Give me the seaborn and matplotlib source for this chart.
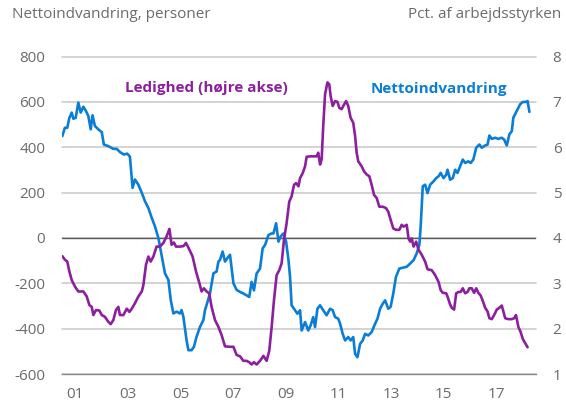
import matplotlib
matplotlib.use('Agg')
import numpy as np
import pandas as pd
import matplotlib.pyplot as plt
import seaborn as sns

# %% Data (decimal years)

#Nettoindvandring, personer (left axis)
netto_aar = [2001.01, 2001.11, 2001.20, 2001.28, 2001.37, 2001.43, 2001.52, 2001.62, 2001.71, 2001.81,
             2001.91, 2002.00, 2002.09, 2002.16, 2002.25, 2002.38, 2002.51, 2002.59, 2002.76, 2002.95,
             2003.08, 2003.20, 2003.35, 2003.48, 2003.58, 2003.68, 2003.77, 2003.90, 2004.03, 2004.15,
             2004.28, 2004.41, 2004.53, 2004.66, 2004.78, 2004.91, 2005.04, 2005.13, 2005.23, 2005.35,
             2005.48, 2005.54, 2005.61, 2005.73, 2005.80, 2005.92, 2006.01, 2006.11, 2006.24, 2006.37,
             2006.43, 2006.49, 2006.62, 2006.75, 2006.87, 2006.94, 2007.00, 2007.10, 2007.19, 2007.28,
             2007.38, 2007.51, 2007.63, 2007.76, 2007.89, 2008.01, 2008.11, 2008.20, 2008.29, 2008.39,
             2008.52, 2008.62, 2008.71, 2008.84, 2008.96, 2009.03, 2009.13, 2009.22, 2009.30, 2009.41,
             2009.51, 2009.60, 2009.66, 2009.72, 2009.85, 2009.94, 2010.04, 2010.10, 2010.23, 2010.35,
             2010.44, 2010.54, 2010.61, 2010.70, 2010.80, 2010.92, 2011.05, 2011.18, 2011.28, 2011.37,
             2011.49, 2011.56, 2011.66, 2011.75, 2011.87, 2011.96, 2012.06, 2012.13, 2012.22, 2012.32,
             2012.42, 2012.51, 2012.63, 2012.76, 2012.89, 2012.98, 2013.08, 2013.18, 2013.27, 2013.39,
             2013.48, 2013.58, 2013.68, 2013.81, 2014.09, 2014.22, 2014.35, 2014.47, 2014.57, 2014.62,
             2014.70, 2014.79, 2014.88, 2014.98, 2015.11, 2015.21, 2015.30, 2015.38, 2015.49, 2015.59,
             2015.64, 2015.74, 2015.84, 2015.93, 2016.02, 2016.12, 2016.22, 2016.31, 2016.43, 2016.52,
             2016.62, 2016.73, 2016.85, 2016.94, 2017.07, 2017.16, 2017.23, 2017.32, 2017.45, 2017.57,
             2017.70, 2017.79, 2017.89, 2017.99, 2018.08, 2018.14, 2018.27, 2018.40, 2018.50, 2018.62,
             2018.68, 2018.75]
netto_personer = [449, 486, 486, 530, 553, 526, 530, 597, 553, 579,
                  560, 538, 479, 541, 494, 479, 467, 412, 405, 393,
                  393, 379, 368, 372, 358, 221, 258, 235, 199, 162,
                  132, 88, 51, 0, -75, -156, -185, -274, -333, -325,
                  -333, -318, -348, -451, -495, -495, -480, -436, -392, -362,
                  -318, -296, -244, -156, -148, -104, -97, -60, -104, -89,
                  -74, -200, -229, -238, -245, -253, -260, -194, -231, -157,
                  -135, -46, -31, 13, 20, 20, 65, -16, 6, 20,
                  -16, -97, -172, -297, -319, -334, -319, -408, -371, -408,
                  -386, -349, -393, -312, -297, -319, -341, -312, -319, -349,
                  -356, -378, -423, -452, -437, -452, -437, -511, -526, -467,
                  -452, -423, -430, -415, -378, -356, -312, -290, -275, -312,
                  -304, -245, -172, -135, -127, -113, -98, -68, -31, 50,
                  228, 235, 198, 235, 250, 264, 272, 287, 264, 279,
                  301, 257, 264, 301, 287, 316, 346, 331, 338, 331,
                  346, 398, 412, 398, 408, 412, 452, 437, 442, 437,
                  442, 434, 408, 457, 471, 531, 560, 590, 600, 600,
                  604, 556]

#Ledighed, pct. af arbejdsstyrken (right axis)
ledighed_aar = [2001.01, 2001.11, 2001.20, 2001.28, 2001.37, 2001.49, 2001.62, 2001.81, 2001.94, 2002.04,
                2002.13, 2002.19, 2002.29, 2002.42, 2002.51, 2002.63, 2002.76, 2002.85, 2002.95, 2003.05,
                2003.14, 2003.20, 2003.33, 2003.46, 2003.56, 2003.65, 2003.77, 2003.90, 2004.03, 2004.09,
                2004.19, 2004.28, 2004.37, 2004.47, 2004.59, 2004.72, 2004.85, 2004.97, 2005.08, 2005.16,
                2005.25, 2005.33, 2005.48, 2005.61, 2005.71, 2005.84, 2005.96, 2006.09, 2006.22, 2006.30,
                2006.39, 2006.49, 2006.59, 2006.68, 2006.81, 2006.94, 2007.06, 2007.19, 2007.38, 2007.51,
                2007.63, 2007.76, 2007.89, 2008.01, 2008.11, 2008.20, 2008.29, 2008.39, 2008.52, 2008.65,
                2008.77, 2008.87, 2008.96, 2009.05, 2009.15, 2009.25, 2009.34, 2009.43, 2009.53, 2009.63,
                2009.72, 2009.81, 2009.89, 2009.98, 2010.04, 2010.14, 2010.23, 2010.29, 2010.42, 2010.54,
                2010.67, 2010.73, 2010.80, 2010.86, 2010.92, 2010.99, 2011.08, 2011.15, 2011.20, 2011.28,
                2011.37, 2011.46, 2011.53, 2011.62, 2011.68, 2011.79, 2011.87, 2011.96, 2012.06, 2012.13,
                2012.19, 2012.25, 2012.38, 2012.47, 2012.57, 2012.67, 2012.76, 2012.85, 2012.95, 2013.05,
                2013.18, 2013.30, 2013.39, 2013.48, 2013.58, 2013.68, 2013.81, 2013.90, 2013.97, 2014.09,
                2014.16, 2014.22, 2014.28, 2014.35, 2014.45, 2014.54, 2014.66, 2014.79, 2014.88, 2015.04,
                2015.17, 2015.30, 2015.38, 2015.46, 2015.59, 2015.64, 2015.74, 2015.80, 2015.89, 2015.97,
                2016.06, 2016.14, 2016.22, 2016.31, 2016.40, 2016.47, 2016.56, 2016.65, 2016.73, 2016.81,
                2016.90, 2016.98, 2017.07, 2017.16, 2017.23, 2017.32, 2017.41, 2017.51, 2017.61, 2017.70,
                2017.76, 2017.83, 2017.95, 2018.08, 2018.17, 2018.24, 2018.33, 2018.42, 2018.50, 2018.59,
                2018.68]
ledighed_pct = [3.60, 3.52, 3.48, 3.26, 3.07, 2.93, 2.82, 2.82, 2.71, 2.52,
                2.48, 2.30, 2.41, 2.40, 2.30, 2.26, 2.15, 2.10, 2.19, 2.41,
                2.48, 2.30, 2.30, 2.44, 2.37, 2.44, 2.56, 2.71, 2.82, 2.96,
                3.41, 3.59, 3.48, 3.59, 3.81, 3.81, 3.89, 4.03, 4.20, 3.85,
                3.90, 3.81, 3.81, 3.82, 3.89, 3.74, 3.59, 3.26, 3.00, 2.82,
                2.89, 2.82, 2.78, 2.48, 2.19, 2.04, 1.86, 1.61, 1.60, 1.60,
                1.42, 1.39, 1.29, 1.29, 1.26, 1.21, 1.26, 1.21, 1.29, 1.40,
                1.29, 1.51, 2.03, 2.63, 3.18, 3.29, 3.44, 3.96, 4.33, 4.80,
                4.92, 5.17, 5.21, 5.14, 5.32, 5.43, 5.58, 5.79, 5.80, 5.80,
                5.80, 5.88, 5.62, 5.73, 6.47, 7.17, 7.43, 7.39, 7.13, 6.91,
                7.02, 7.00, 6.87, 6.84, 6.91, 7.02, 6.91, 6.65, 6.54, 6.25,
                5.88, 5.69, 5.58, 5.47, 5.40, 5.36, 5.17, 4.95, 4.88, 4.69,
                4.69, 4.66, 4.58, 4.40, 4.21, 4.18, 4.18, 4.29, 4.25, 4.29,
                3.99, 3.92, 3.99, 3.81, 3.92, 3.74, 3.63, 3.48, 3.31, 3.29,
                3.18, 3.03, 2.85, 2.79, 2.78, 2.71, 2.53, 2.46, 2.42, 2.78,
                2.81, 2.81, 2.89, 2.78, 2.81, 2.89, 2.89, 2.79, 2.89, 2.79,
                2.73, 2.61, 2.46, 2.38, 2.23, 2.21, 2.30, 2.42, 2.46, 2.51,
                2.38, 2.23, 2.21, 2.21, 2.23, 2.30, 2.04, 1.92, 1.77, 1.68,
                1.59]

#Axis ticks and labels
venstre_ticks = [-600, -400, -200, 0, 200, 400, 600, 800]
hoejre_ticks = [1, 2, 3, 4, 5, 6, 7, 8]
aar_ticks = list(range(2001, 2020))
aar_labels = ['01', '03', '05', '07', '09', '11', '13', '15', '17']

# %% Style

sns.set_style('white')
plt.rcParams['font.family'] = ['Open Sans', 'DejaVu Sans']

blaa = '#0a7dd6'
lilla = '#8c1f9e'
graa_tekst = '#6b6b6b'
graa_grid = '#c8c8c8'

# %% Plot

fig = plt.figure(figsize=(5.66, 4.01), dpi=100)
ax = fig.add_axes([62/566, 1 - 374/401, 474/566, (374 - 56.6)/401])
ax2 = ax.twinx()

df_netto = pd.DataFrame({'aar': netto_aar, 'personer': netto_personer})
df_led = pd.DataFrame({'aar': ledighed_aar, 'pct': ledighed_pct})

sns.lineplot(data=df_netto, x='aar', y='personer', ax=ax, color=blaa, lw=1.9, zorder=3)
sns.lineplot(data=df_led, x='aar', y='pct', ax=ax2, color=lilla, lw=1.9, zorder=3)

#Limits
ax.set_xlim(2001, 2019)
ax.set_ylim(-600, 800)
ax2.set_ylim(1, 8)

#Y ticks and horizontal gridlines from the left axis ticks
ax.set_yticks(venstre_ticks)
ax.set_yticklabels([str(v) for v in venstre_ticks])
ax2.set_yticks(hoejre_ticks)
ax2.set_yticklabels([str(v) for v in hoejre_ticks])
ax.yaxis.grid(True, color=graa_grid, lw=1.1)
ax.set_axisbelow(True)
for gl in ax.yaxis.get_gridlines():
    gl.set_clip_on(False)
ax.axhline(0, color='#5a5a5a', lw=1, zorder=2.5)
ax.tick_params(axis='y', length=0, pad=12, labelsize=11, labelcolor=graa_tekst)
ax2.tick_params(axis='y', length=0, pad=12, labelsize=11, labelcolor=graa_tekst)

#X ticks: small inward ticks at year boundaries, labels at mid-year
ax.set_xticks(aar_ticks)
ax.set_xticklabels([])
ax.set_xticks([2001.5 + 2*i for i in range(len(aar_labels))], minor=True)
ax.set_xticklabels(aar_labels, minor=True)
ax.tick_params(axis='x', which='major', direction='in', length=4, width=1, color='#8a8a8a')
ax.tick_params(axis='x', which='minor', length=0, pad=9, labelsize=11, labelcolor=graa_tekst)

ax.set_xlabel('')
ax.set_ylabel('')
ax2.set_ylabel('')

#Spines: only the bottom one stays
for side in ['top', 'left', 'right']:
    ax.spines[side].set_visible(False)
    ax2.spines[side].set_visible(False)
ax2.spines['bottom'].set_visible(False)
ax.spines['bottom'].set_color('#8a8a8a')
ax.spines['bottom'].set_linewidth(1)
ax.spines['bottom'].set_zorder(2.6)

#Axis titles
fig.text(12/566, 1 - 15/401, 'Nettoindvandring, personer', ha='left', va='center',
         fontsize=11, color=graa_tekst)
fig.text(561/566, 1 - 15/401, 'Pct. af arbejdsstyrken', ha='right', va='center',
         fontsize=11, color=graa_tekst)

#Series labels
ax.text(2003.39, 662, 'Ledighed (højre akse)', ha='left', va='center',
        fontsize=11, fontweight='bold', color=lilla)
ax.text(2012.72, 657, 'Nettoindvandring', ha='left', va='center',
        fontsize=11, fontweight='bold', color=blaa)

fig.savefig('out.png', dpi=100, facecolor='white')
